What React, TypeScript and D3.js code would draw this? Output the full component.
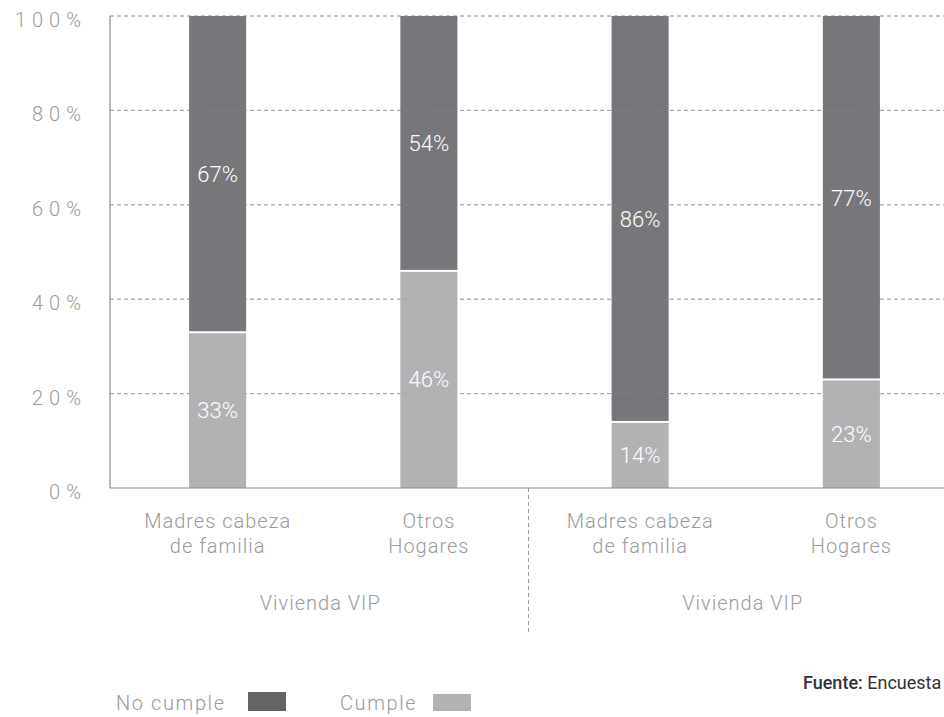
import React from 'react';
import * as d3 from 'd3';

// Chart data
const categoryIds = ['mcf1', 'oh1', 'mcf2', 'oh2'];
const categoryLines = [
  ['Madres cabeza', 'de familia'],
  ['Otros', 'Hogares'],
  ['Madres cabeza', 'de familia'],
  ['Otros', 'Hogares'],
];
const groupLabels = ['Vivienda VIP', 'Vivienda VIP'];
const cumple = [33, 46, 14, 23];
const noCumple = [67, 54, 86, 77];
const yTicks = [0, 20, 40, 60, 80, 100];
const legendItems = ['No cumple', 'Cumple'];

const W = 944;
const H = 717;
const FONT = 'Roboto, "Open Sans", sans-serif';
const GREY_TEXT = '#9a9a9a';
const DARK = '#77777b';
const LIGHT = '#b2b2b5';
const LEGEND_DARK = '#646464';

export default function App() {
  const x = d3.scaleBand<string>().domain(categoryIds).range([112, 957]).paddingInner(0.73).paddingOuter(0.365);
  const y = d3.scaleLinear().domain([0, 100]).range([488, 16]);
  const bw = x.bandwidth();
  const cx = (i: number) => (x(categoryIds[i]) as number) + bw / 2;
  const sepX = ((x(categoryIds[1]) as number) + bw + (x(categoryIds[2]) as number)) / 2 - 6;
  const plotLeft = 110;

  return (
    <svg
      width={W}
      height={H}
      style={{ position: 'absolute', left: 0, top: 0, display: 'block', background: '#fff' }}
      fontFamily={FONT}
    >
      {/* grid behind */}
      {yTicks.filter(t => t > 0).map(t => (
        <line key={'g' + t} x1={plotLeft} x2={W} y1={y(t)} y2={y(t)} stroke="#9a9a9a" strokeWidth={1} strokeDasharray="4,3" />
      ))}

      {/* bars */}
      {categoryIds.map((id, i) => {
        const x0 = x(id) as number;
        const split = y(cumple[i]);
        return (
          <g key={id}>
            <rect x={x0} y={y(cumple[i] + noCumple[i])} width={bw} height={split - 1 - y(cumple[i] + noCumple[i])} fill={DARK} />
            <rect x={x0} y={split + 1} width={bw} height={y(0) - split - 1} fill={LIGHT} />
          </g>
        );
      })}

      {/* faint grid over bars */}
      {yTicks.filter(t => t > 0).map(t => (
        <line key={'go' + t} x1={plotLeft} x2={W} y1={y(t)} y2={y(t)} stroke="#9a9a9a" strokeOpacity={0.3} strokeWidth={1} strokeDasharray="4,3" />
      ))}

      {/* value labels */}
      {categoryIds.map((id, i) => {
        const top = y(cumple[i] + noCumple[i]);
        const split = y(cumple[i]);
        const base = y(0);
        return (
          <g key={'v' + id} fill="#fff" fontSize={22} fontWeight={300} textAnchor="middle">
            <text x={cx(i)} y={(top + split) / 2 + 8}>{noCumple[i]}%</text>
            <text x={cx(i)} y={(split + base) / 2 + 8}>{cumple[i]}%</text>
          </g>
        );
      })}

      {/* axes */}
      <line x1={plotLeft} x2={plotLeft} y1={y(100)} y2={y(0)} stroke="#8c8c8c" strokeWidth={1.2} />
      <line x1={plotLeft} x2={W} y1={y(0)} y2={y(0)} stroke="#8c8c8c" strokeWidth={1.2} />
      <line x1={sepX} x2={sepX} y1={y(0)} y2={632} stroke="#9a9a9a" strokeWidth={1} strokeDasharray="4,3" />

      {/* y tick labels */}
      {yTicks.map(t => (
        <text key={'t' + t} x={87} y={y(t) + 11} textAnchor="end" fontSize={20} fontWeight={300} fill={GREY_TEXT} letterSpacing={6}>
          {t}%
        </text>
      ))}

      {/* category labels */}
      {categoryLines.map((lines, i) => (
        <text key={'c' + i} textAnchor="middle" fontSize={20} fontWeight={300} fill={GREY_TEXT} letterSpacing={1}>
          {lines.map((ln, j) => (
            <tspan key={j} x={cx(i)} y={528 + j * 25}>{ln}</tspan>
          ))}
        </text>
      ))}

      {/* group labels */}
      {groupLabels.map((g, k) => (
        <text key={'gl' + k} x={(cx(k * 2) + cx(k * 2 + 1)) / 2 - 3} y={610} textAnchor="middle" fontSize={20} fontWeight={300} fill={GREY_TEXT} letterSpacing={1}>
          {g}
        </text>
      ))}

      {/* legend */}
      <text x={116} y={710} fontSize={20} fontWeight={300} fill={GREY_TEXT} letterSpacing={1.6}>{legendItems[0]}</text>
      <rect x={248} y={692} width={38} height={19} fill={LEGEND_DARK} />
      <text x={340} y={710} fontSize={20} fontWeight={300} fill={GREY_TEXT} letterSpacing={1.6}>{legendItems[1]}</text>
      <rect x={433} y={694} width={38} height={17} fill={LIGHT} />

      {/* source */}
      <text x={803} y={689} fontSize={18} fill="#333">
        <tspan fontWeight={500}>Fuente:</tspan>
        <tspan fontWeight={400}> Encuesta</tspan>
      </text>
    </svg>
  );
}
